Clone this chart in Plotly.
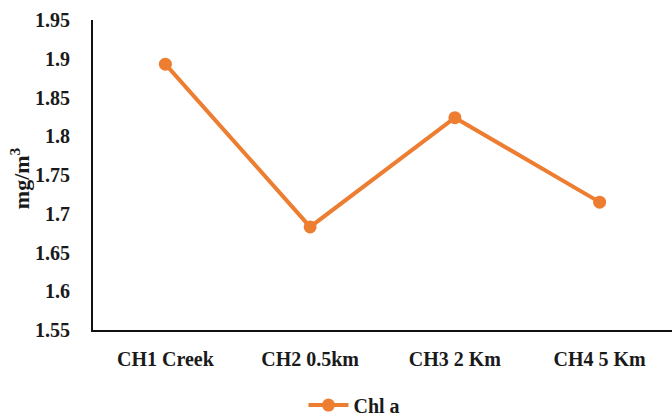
import plotly.graph_objects as go

# Chlorophyll-a concentration at each sampling station
stations = ["CH1 Creek", "CH2 0.5km", "CH3 2 Km", "CH4 5 Km"]
chl_a = [1.893, 1.683, 1.824, 1.715]

y_ticks = [1.55, 1.6, 1.65, 1.7, 1.75, 1.8, 1.85, 1.9, 1.95]
y_tick_text = ["1.55", "1.6", "1.65", "1.7", "1.75", "1.8", "1.85", "1.9", "1.95"]

ORANGE = "#ED7D31"
SERIF = "Liberation Serif"
TEXT_COLOR = "#1a1a1a"


def serif_font(size):
    return dict(family=SERIF, size=size, color=TEXT_COLOR, weight="bold")


fig = go.Figure()
fig.add_trace(go.Scatter(
    x=stations, y=chl_a, mode="lines+markers", name="Chl a",
    line=dict(color=ORANGE, width=4),
    marker=dict(color=ORANGE, size=13),
))

fig.update_layout(
    width=672, height=418,
    margin=dict(l=93, r=0, t=20, b=88, autoexpand=False),
    paper_bgcolor="white", plot_bgcolor="white",
    font=serif_font(19),
    showlegend=True,
    legend=dict(orientation="h", xref="container", yref="container",
                x=0.5275, y=0.031, xanchor="center", yanchor="middle",
                font=serif_font(20), itemwidth=40),
    xaxis=dict(
        type="category", range=[-0.5, 3.5],
        showline=True, linecolor="#111", linewidth=2,
        showgrid=False, ticks="", zeroline=False,
        tickvals=stations, ticktext=stations,
        tickfont=serif_font(20),
        ticklabelstandoff=10,
    ),
    yaxis=dict(
        range=[1.55, 1.95],
        showline=True, linecolor="#111", linewidth=2,
        showgrid=False, ticks="", zeroline=False,
        tickvals=y_ticks, ticktext=y_tick_text,
        tickfont=serif_font(20),
        ticklabelstandoff=17,
    ),
    annotations=[dict(
        text="mg/m<sup>3</sup>", textangle=-90,
        xref="paper", yref="paper", x=-0.126, y=0.49,
        xanchor="center", yanchor="middle", showarrow=False,
        font=serif_font(22),
    )],
)

fig.write_html("out.html")
